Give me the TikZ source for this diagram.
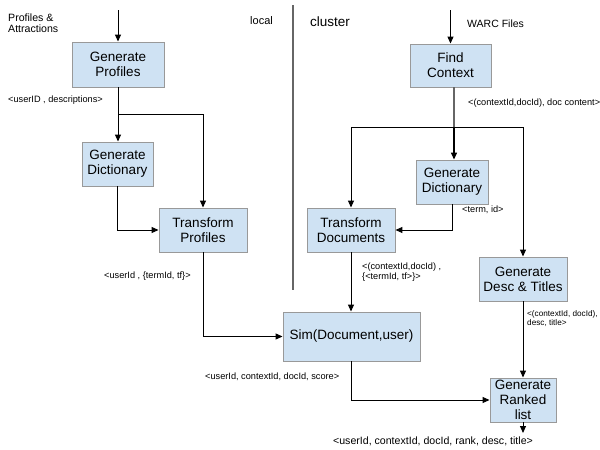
\documentclass[tikz,border=0pt]{standalone}
\usepackage{fontspec}
\setmainfont{Liberation Sans}
\usetikzlibrary{arrows.meta,calc}
\definecolor{boxfill}{HTML}{CFE2F3}
\definecolor{boxline}{HTML}{999999}
\begin{document}
\begin{tikzpicture}[x=1pt,y=-1pt,
  proc/.style={draw=boxline,fill=boxfill,line width=0.9pt,inner sep=0pt,align=center,
    font=\fontsize{13.5}{15}\selectfont},
  lbl/.style={anchor=west,inner sep=0pt,align=left,font=\fontsize{9.2}{10}\selectfont},
  conn/.style={draw=black,line width=1pt},
  arr/.style={conn,-{Triangle[length=7pt,width=6pt]}}]
\useasboundingbox (0,0) rectangle (600,450);
% boxes
\node[proc,minimum width=92pt,minimum height=45pt] (GP) at (118,64.5) {Generate\\Profiles};
\node[proc,minimum width=71pt,minimum height=44pt] (GDL) at (117.5,164) {Generate\\Dictionary};
\node[proc,minimum width=88pt,minimum height=44pt] (TP) at (203,230) {Transform\\Profiles};
\node[proc,minimum width=81pt,minimum height=43pt] (FC) at (450.5,65.5) {Find\\Context};
\node[proc,minimum width=72pt,minimum height=44pt] (GDR) at (452,182) {Generate\\Dictionary};
\node[proc,minimum width=88pt,minimum height=44pt] (TD) at (351,230) {Transform\\Documents};
\node[proc,minimum width=88pt,minimum height=44pt] (GDT) at (523,279) {Generate\\Desc \& Titles};
\node[proc,minimum width=137pt,minimum height=49pt] (SIM) at (351.5,336.5) {Sim(Document,user)};
\node[proc,minimum width=66pt,minimum height=44pt] (GR) at (523,400) {Generate\\Ranked\\list};
% separator
\draw[black!60,line width=1.2pt,dash pattern=on 0.5pt off 0.5pt] (293,5) -- (293,290);
% texts
\node[lbl,font=\fontsize{10.6}{11}\selectfont] (t1) at (8,23.5) {Profiles \&\\Attractions};
\node[lbl,font=\fontsize{11}{12}\selectfont] (t2) at (250,21) {local};
\node[lbl,font=\fontsize{13.5}{14}\selectfont] (t3) at (310,22) {cluster};
\node[lbl,font=\fontsize{10.5}{11}\selectfont] (t4) at (467,24) {WARC Files};
\node[lbl] (l1) at (8,100) {<userID , descriptions>};
\node[lbl] (l2) at (468,103) {<(contextId,docId), doc content>};
\node[lbl] (l3) at (462,210) {<term, id>};
\node[lbl] (l4) at (104,276) {<userId , \{termId, tf\}>};
\node[lbl] (l5) at (362,272) {<(contextId,docId) ,\\\{<termId, tf>\}>};
\node[lbl,font=\fontsize{8.2}{9.5}\selectfont] (l6) at (527,318.5) {<(contextId, docId),\\desc, title>};
\node[lbl] (l7) at (205,377) {<userId, contextId, docId, score>};
\node[inner sep=0pt,font=\fontsize{10.6}{11}\selectfont] (l8) at (433,441) {<userId, contextId, docId, rank, desc, title>};
% coordinates
\coordinate (inL) at (118,10);
\coordinate (inR) at (450.5,10);
\coordinate (j1) at (118,114);
\coordinate (j2) at (454,127);
\coordinate (out) at (523,433);
% local connectors
\draw[arr] (inL) -- (GP.north);
\draw[arr] (GP.south) -- (GDL.north -| GP.south);
\draw[arr] (j1) -| (TP.north);
\draw[arr] (GDL.south) |- (TP.west);
\draw[arr] (TP.south) |- (SIM.west);
% cluster connectors
\draw[arr] (inR) -- (FC.north);
\draw[draw=black!60,line width=1.5pt] (FC.south -| j2) -- (j2);
\draw[arr,line width=1.3pt] (j2) -- (GDR.north -| j2);
\draw[arr] (j2) -| (TD.north);
\draw[arr] (j2) -| (GDT.north);
\draw[arr] (GDR.south) |- (TD.east);
\draw[arr] (TD.south) -- (SIM.north -| TD.south);
\draw[arr] (GDT.south) -- (GR.north);
\draw[arr] (SIM.south) |- (GR.west);
\draw[arr] (GR.south) -- (out);
\end{tikzpicture}
\end{document}
